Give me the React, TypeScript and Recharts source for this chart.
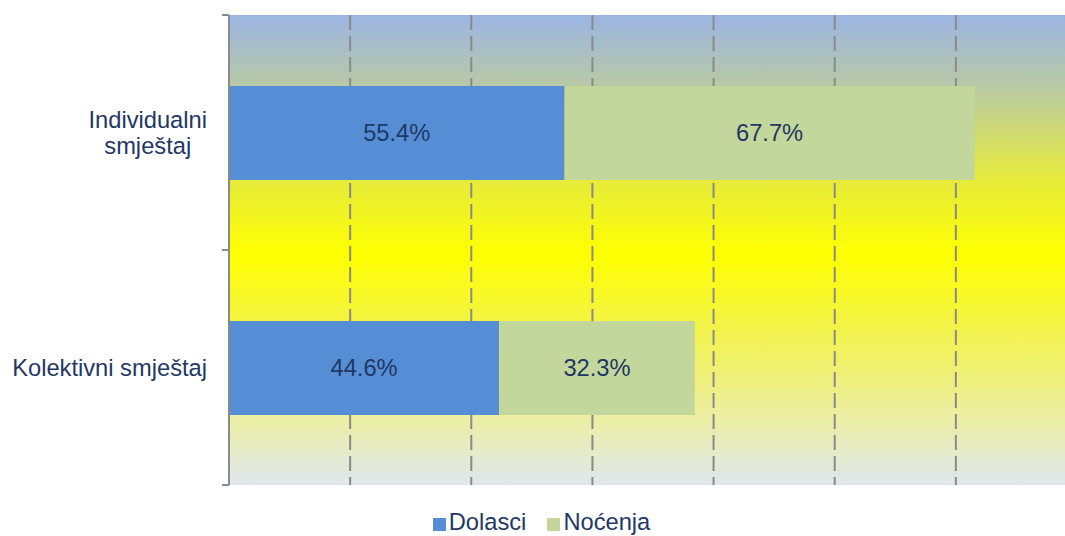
import { BarChart, Bar, XAxis, YAxis, CartesianGrid, LabelList } from "recharts"

const categories = ["Individualni smještaj", "Kolektivni smještaj"]
// two-line label layout as it appears in the picture
const categoryLines: Record<string, string[]> = {
  "Individualni smještaj": ["Individualni", "smještaj"],
  "Kolektivni smještaj": ["Kolektivni smještaj"],
}
const dolasci = [55.4, 44.6]
const nocenja = [67.7, 32.3]
const xTicks = [0, 20, 40, 60, 80, 100, 120, 140]

const seriesNames = { dolasci: "Dolasci", nocenja: "Noćenja" }
const colors = { dolasci: "#558ED5", nocenja: "#C3D69B" }
const textColor = "#1F3864"
const axisGray = "#8A8A8A"
const font = "'Liberation Sans', Arial, sans-serif"
const fontSize = 23.7

const data = categories.map((c, i) => ({ name: c, dolasci: dolasci[i], nocenja: nocenja[i] }))

if (typeof document !== "undefined") {
  document.body.style.margin = "0"
  document.body.style.overflow = "hidden"
}

function measure(text: string) {
  const ctx = document.createElement("canvas").getContext("2d")
  if (!ctx) return text.length * 11
  ctx.font = `${fontSize}px ${font}`
  return ctx.measureText(text).width
}

function CategoryTick(props: any) {
  const { x, y, payload } = props
  const lines = categoryLines[payload.value] || [payload.value]
  const axisX = x + 8
  const right = axisX - 22
  const widest = Math.max(...lines.map(measure))
  const cx = right - widest / 2
  const lh = 26
  const y0 = y - ((lines.length - 1) * lh) / 2
  const half = payload.offset || 0
  return (
    <g>
      {/* Excel-style tick marks sit on the category boundaries */}
      <line x1={axisX - 7} x2={axisX} y1={y - half} y2={y - half} stroke={axisGray} strokeWidth={2} />
      <line x1={axisX - 7} x2={axisX} y1={y + half} y2={y + half} stroke={axisGray} strokeWidth={2} />
      {lines.map((l, i) => (
        <text
          key={i}
          x={cx}
          y={y0 + i * lh}
          dy={8.5}
          textAnchor="middle"
          fill={textColor}
          fontSize={fontSize}
          fontFamily={font}
        >
          {l}
        </text>
      ))}
    </g>
  )
}

function LegendRow() {
  const items = [
    { key: "dolasci", label: seriesNames.dolasci, color: colors.dolasci },
    { key: "nocenja", label: seriesNames.nocenja, color: colors.nocenja },
  ]
  return (
    <div
      style={{
        position: "absolute",
        top: 508,
        left: 0,
        width: 1083,
        display: "flex",
        justifyContent: "center",
        gap: 21,
        fontFamily: font,
        fontSize: fontSize,
        color: textColor,
        lineHeight: "28px",
      }}
    >
      {items.map((it) => (
        <div key={it.key} style={{ display: "flex", alignItems: "center", gap: 3 }}>
          <span style={{ width: 13, height: 13, background: it.color, display: "inline-block", marginTop: 4 }} />
          <span>{it.label}</span>
        </div>
      ))}
    </div>
  )
}

export default function App() {
  return (
    <div style={{ width: 1065, height: 536, overflow: "hidden", position: "relative", background: "#fff" }}>
      <BarChart
        width={1077}
        height={536}
        data={data}
        layout="vertical"
        margin={{ top: 15, right: 0, bottom: 51, left: 0 }}
      >
        <defs>
          <linearGradient id="bg" x1="0" y1="0" x2="0" y2="1">
            <stop offset="0" stopColor="#9BB5E3" />
            <stop offset="0.15" stopColor="#B8C9A5" />
            <stop offset="0.35" stopColor="#E6EB3C" />
            <stop offset="0.51" stopColor="#FFFF00" />
            <stop offset="0.66" stopColor="#F2F346" />
            <stop offset="0.87" stopColor="#EBEEA9" />
            <stop offset="1" stopColor="#DFE7EE" />
          </linearGradient>
        </defs>
        <CartesianGrid
          horizontal={false}
          fill="url(#bg)"
          fillOpacity={1}
          stroke={axisGray}
          strokeWidth={2}
          strokeDasharray="15 6"
        />
        <XAxis type="number" domain={[0, 140]} ticks={xTicks} hide />
        <YAxis
          type="category"
          dataKey="name"
          width={229}
          tickLine={false}
          axisLine={{ stroke: axisGray, strokeWidth: 2 }}
          tick={<CategoryTick />}
        />
        <Bar dataKey="dolasci" stackId="a" fill={colors.dolasci} barSize={94} isAnimationActive={false}>
          <LabelList
            dataKey="dolasci"
            position="center"
            formatter={(v: any) => `${v}%`}
            fill={textColor}
            fontSize={fontSize}
            fontFamily={font}
          />
        </Bar>
        <Bar dataKey="nocenja" stackId="a" fill={colors.nocenja} barSize={94} isAnimationActive={false}>
          <LabelList
            dataKey="nocenja"
            position="center"
            formatter={(v: any) => `${v}%`}
            fill={textColor}
            fontSize={fontSize}
            fontFamily={font}
          />
        </Bar>
      </BarChart>
      <LegendRow />
    </div>
  )
}
